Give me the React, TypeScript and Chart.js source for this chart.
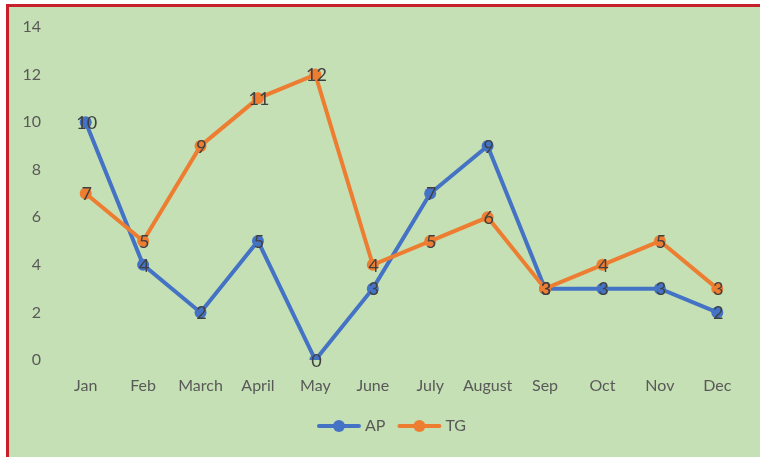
import React, { useEffect, useRef } from "react";
import { Chart, registerables } from "chart.js";

Chart.register(...registerables);

const months = ["Jan", "Feb", "March", "April", "May", "June", "July", "August", "Sep", "Oct", "Nov", "Dec"];
const apValues = [10, 4, 2, 5, 0, 3, 7, 9, 3, 3, 3, 2];
const tgValues = [7, 5, 9, 11, 12, 4, 5, 6, 3, 4, 5, 3];

const BLUE = "#4472c4";
const ORANGE = "#ed7d31";
const BG = "#c5e0b4";
const TICK = "#595959";
const FONT = "Lato, 'Open Sans', sans-serif";

const valueLabels = {
  id: "valueLabels",
  afterDatasetsDraw(chart: any) {
    const ctx = chart.ctx;
    ctx.save();
    ctx.font = `18px ${FONT}`;
    ctx.fillStyle = "#404040";
    ctx.textAlign = "center";
    ctx.textBaseline = "middle";
    chart.data.datasets.forEach((ds: any, i: number) => {
      const meta = chart.getDatasetMeta(i);
      meta.data.forEach((pt: any, j: number) => {
        ctx.fillText(String(ds.data[j]), pt.x + 1, pt.y + 1);
      });
    });
    ctx.restore();
  },
};

const lineLegend = {
  id: "lineLegend",
  afterDraw(chart: any) {
    const ctx = chart.ctx;
    const sym = 44;
    const gap = 4;
    const itemGap = 12;
    ctx.save();
    ctx.font = `16px ${FONT}`;
    const items = chart.data.datasets.map((ds: any) => ({
      label: ds.label,
      color: ds.borderColor,
      w: ctx.measureText(ds.label).width,
    }));
    const total =
      items.reduce((s: number, it: any) => s + sym + gap + it.w, 0) + itemGap * (items.length - 1);
    const cx = chart.chartArea.left + (chart.chartArea.right - chart.chartArea.left) / 2 - 10;
    const cy = chart.chartArea.bottom + 66;
    let x = cx - total / 2;
    items.forEach((it: any) => {
      ctx.strokeStyle = it.color;
      ctx.lineWidth = 4;
      ctx.lineCap = "round";
      ctx.beginPath();
      ctx.moveTo(x + 2, cy);
      ctx.lineTo(x + sym - 2, cy);
      ctx.stroke();
      ctx.fillStyle = it.color;
      ctx.beginPath();
      ctx.arc(x + sym / 2, cy, 6, 0, Math.PI * 2);
      ctx.fill();
      x += sym + gap;
      ctx.fillStyle = TICK;
      ctx.textAlign = "left";
      ctx.textBaseline = "middle";
      ctx.fillText(it.label, x, cy);
      x += it.w + itemGap;
    });
    ctx.restore();
  },
};

export default function App() {
  const ref = useRef<HTMLCanvasElement | null>(null);

  useEffect(() => {
    if (!ref.current) return;
    const chart = new Chart(ref.current, {
      type: "line",
      data: {
        labels: months,
        datasets: [
          {
            label: "AP",
            data: apValues,
            borderColor: BLUE,
            backgroundColor: BLUE,
            borderWidth: 4,
            pointRadius: 6,
            pointBackgroundColor: BLUE,
            pointBorderColor: BLUE,
            pointBorderWidth: 0,
            tension: 0,
            order: 1,
          },
          {
            label: "TG",
            data: tgValues,
            borderColor: ORANGE,
            backgroundColor: ORANGE,
            borderWidth: 4,
            pointRadius: 6,
            pointBackgroundColor: ORANGE,
            pointBorderColor: ORANGE,
            pointBorderWidth: 0,
            tension: 0,
            order: 0,
          },
        ],
      },
      options: {
        animation: false,
        responsive: false,
        maintainAspectRatio: false,
        layout: { padding: { left: 0, right: 14, top: 27, bottom: 49 } },
        scales: {
          x: {
            offset: true,
            grid: { display: false, drawTicks: false },
            border: { display: false },
            ticks: {
              color: TICK,
              font: { family: FONT, size: 16 },
              padding: 16,
              maxRotation: 0,
              autoSkip: false,
            },
            afterFit: (s: any) => {
              s.height = 48;
            },
          },
          y: {
            min: 0,
            max: 14,
            grid: { display: false, drawTicks: false },
            border: { display: false },
            ticks: {
              stepSize: 2,
              color: TICK,
              font: { family: FONT, size: 16 },
              padding: 16,
            },
            afterFit: (s: any) => {
              s.width = 57;
            },
          },
        },
        plugins: {
          tooltip: { enabled: false },
          legend: { display: false },
        },
      },
      plugins: [valueLabels, lineLegend],
    });
    return () => chart.destroy();
  }, []);

  return (
    <div
      style={{
        position: "fixed",
        left: 0,
        top: 0,
        width: 760,
        height: 457,
        overflow: "hidden",
        background: "#ffffff",
      }}
    >
      <div
        style={{
          position: "absolute",
          left: 6,
          top: 4,
          width: 800,
          height: 500,
          background: BG,
          borderLeft: "3px solid #c8202a",
          borderTop: "3px solid #c8202a",
        }}
      />
      <canvas
        ref={ref}
        width={760}
        height={457}
        style={{ position: "absolute", left: 0, top: 0, width: 760, height: 457 }}
      />
    </div>
  );
}
